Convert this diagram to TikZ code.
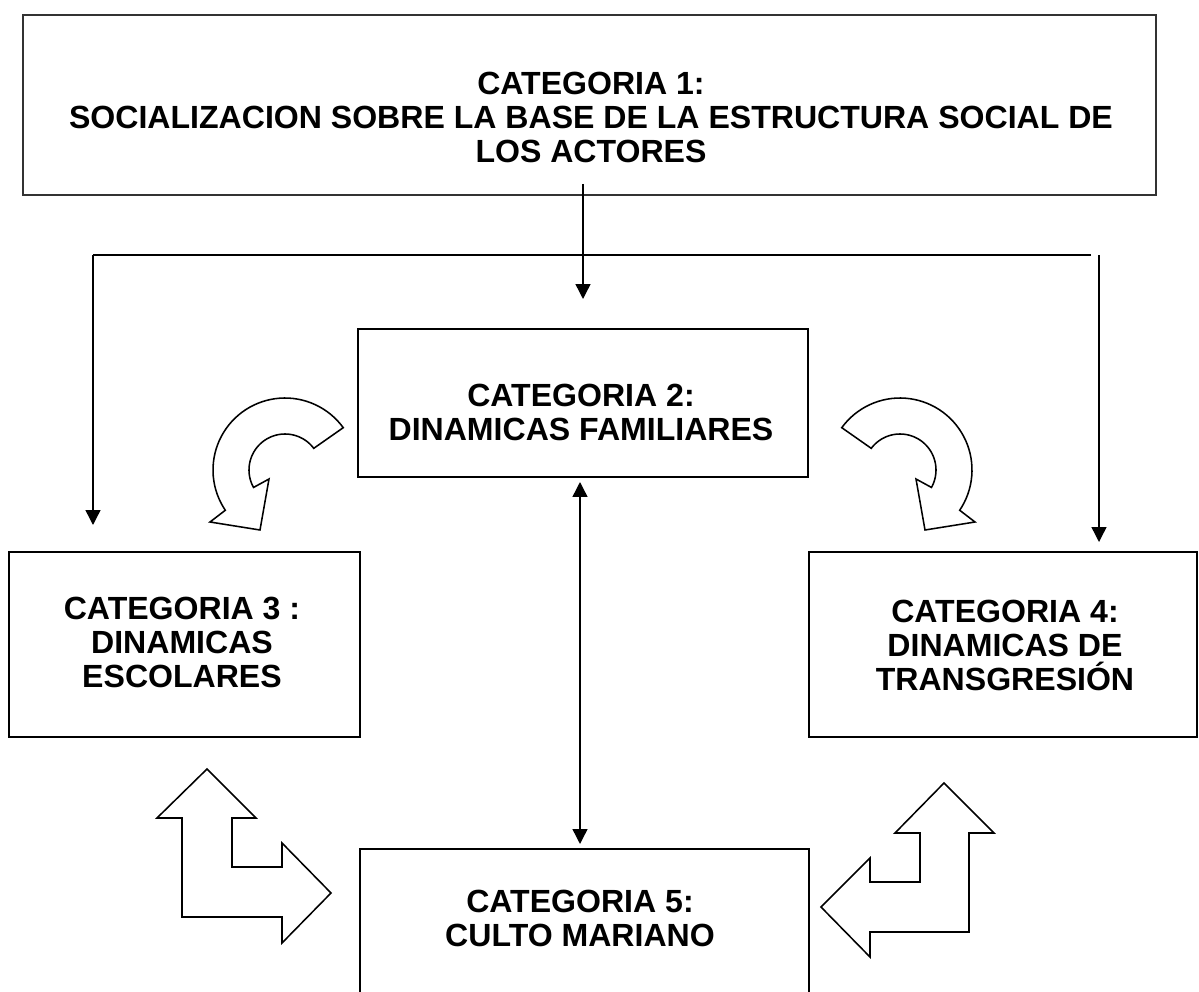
\documentclass[tikz,border=0pt]{standalone}
\usepackage{fontspec}
\setmainfont{Liberation Sans}
\usetikzlibrary{arrows.meta}
\begin{document}
\begin{tikzpicture}[x=0.025cm, y=-0.025cm,
  box/.style={draw, line width=1.4pt, inner sep=0pt},
  lbl/.style={font=\bfseries\fontsize{22.8}{24.2}\selectfont, align=center, inner sep=0pt},
  conn/.style={line width=1pt},
  tipend/.style={-{Triangle[width=10.5pt,length=10.5pt]}},
  tipboth/.style={{Triangle[width=10.5pt,length=10.5pt]}-{Triangle[width=10.5pt,length=10.5pt]}},
  shp/.style={draw, line width=1.1pt, fill=white, line join=miter}]
\useasboundingbox (0,0) rectangle (1199,992);

% boxes
\node[box, draw=black!80, line width=1.2pt, minimum width=28.325cm, minimum height=4.5cm] (b1) at (589.5,105) {};
\node[box, minimum width=11.25cm, minimum height=3.7cm] (b2) at (583,403) {};
\node[box, minimum width=8.775cm, minimum height=4.625cm] (b3) at (184.5,644.5) {};
\node[box, minimum width=9.7cm, minimum height=4.625cm] (b4) at (1003,644.5) {};
\node[box, minimum width=11.225cm, minimum height=4.025cm] (b5) at (584.5,929.5) {};

% labels
\node[lbl] (t1) at (591,117) {CATEGORIA 1:\\SOCIALIZACION SOBRE LA BASE DE LA ESTRUCTURA SOCIAL DE\\LOS ACTORES};
\node[lbl] (t2) at (581,412) {CATEGORIA 2:\\DINAMICAS FAMILIARES};
\node[lbl] (t3) at (182,642) {CATEGORIA 3 :\\DINAMICAS\\ESCOLARES};
\node[lbl] (t4) at (1005,645) {CATEGORIA 4:\\DINAMICAS DE\\TRANSGRESIÓN};
\node[lbl] (t5) at (580,918.5) {CATEGORIA 5:\\CULTO MARIANO};

% connectors
\coordinate (a1) at (583,299);
\coordinate (hl) at (93,255);
\coordinate (hr) at (1091,255);
\coordinate (vr) at (1099,255);
\coordinate (al) at (93,525);
\coordinate (ar) at (1099,542);
\coordinate (dx) at (580,0);

\draw[conn,tipend] ([yshift=0.3cm]b1.south -| a1) -- (a1);
\draw[conn] (hr) -- (hl);
\draw[conn,tipend] (hl) -- (al);
\draw[conn,tipend] (vr) -- (ar);
\draw[conn,tipboth,shorten <=0.1cm,shorten >=0.1cm] (b2.south -| dx) -- (b5.north -| dx);

% curved arrows
\draw[shp] plot[domain=36:214, samples=50] ({285+72*cos(\x)},{470-72*sin(\x)})
  -- (210,522) -- (260,530) -- (269,479)
  -- plot[domain=209:37, samples=50] ({285+36*cos(\x)},{470-36*sin(\x)}) -- cycle;
\draw[shp] plot[domain=144:-34, samples=50] ({900+72*cos(\x)},{470-72*sin(\x)})
  -- (975,522) -- (925,530) -- (916,479)
  -- plot[domain=-29:143, samples=50] ({900+36*cos(\x)},{470-36*sin(\x)}) -- cycle;

% bent arrows
\draw[shp] (207,769) -- (256,818) -- (232,818) -- (232,867) -- (282,867) -- (282,843)
  -- (331,893) -- (282,943) -- (282,917) -- (182,917) -- (182,818) -- (157,818) -- cycle;
\draw[shp] (944,783) -- (994,833) -- (969,833) -- (969,932) -- (870,932) -- (870,957)
  -- (821,907) -- (870,858) -- (870,882) -- (920,882) -- (920,833) -- (895,833) -- cycle;
\end{tikzpicture}
\end{document}
